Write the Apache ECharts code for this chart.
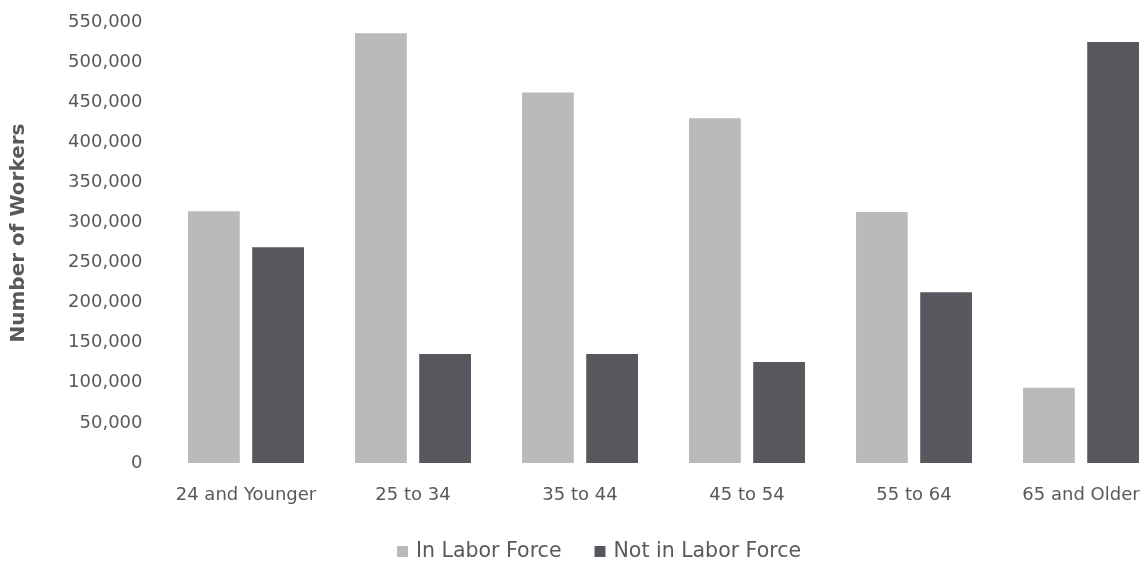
<!DOCTYPE html>
<html>
<head>
<meta charset="utf-8">
<script src="https://cdn.jsdelivr.net/npm/echarts@6/dist/echarts.min.js"></script>
<style>
  html, body { margin: 0; padding: 0; background: #ffffff; }
  #chart { width: 1144px; height: 561px; }
</style>
</head>
<body>
<div id="chart"></div>
<script>
// Age groups along the x axis
const ageGroups = ['24 and Younger', '25 to 34', '35 to 44', '45 to 54', '55 to 64', '65 and Older'];

// Workers by labor force status
const inLaborForce    = [314000, 536000, 462000, 430000, 313000, 94000];
const notInLaborForce = [269000, 136000, 136000, 126000, 213000, 525000];

const seriesNames = ['In Labor Force', 'Not in Labor Force'];

// Value axis ticks
const yTicks = { min: 0, max: 550000, step: 50000 };

const textColor = '#595959';
const fontFamily = '"DejaVu Sans", sans-serif';

const chart = echarts.init(document.getElementById('chart'), null, { renderer: 'canvas' });

chart.setOption({
  backgroundColor: '#ffffff',
  animation: false,
  textStyle: { fontFamily: fontFamily, color: textColor },
  grid: {
    left: 162.5,
    right: -20.5,
    top: 22,
    bottom: 98,
    containLabel: false,
    outerBoundsMode: 'none'
  },
  legend: {
    data: seriesNames,
    left: 392,
    top: 536,
    itemWidth: 11,
    itemHeight: 11,
    itemGap: 33,
    icon: 'rect',
    textStyle: { fontSize: 20.5, color: textColor, fontFamily: fontFamily, padding: [0, 0, 0, 3] }
  },
  xAxis: {
    type: 'category',
    data: ageGroups,
    axisLine: { show: false },
    axisTick: { show: false },
    axisLabel: { fontSize: 18, color: textColor, margin: 23, interval: 0 }
  },
  yAxis: {
    type: 'value',
    min: yTicks.min,
    max: yTicks.max,
    interval: yTicks.step,
    name: 'Number of Workers',
    nameLocation: 'middle',
    nameGap: 134,
    nameTextStyle: { fontSize: 20, fontWeight: 'bold', color: textColor, padding: [0, 0, 0, 19] },
    axisLine: { show: false },
    axisTick: { show: false },
    splitLine: { show: false },
    axisLabel: {
      fontSize: 18,
      color: textColor,
      margin: 20,
      formatter: v => v.toLocaleString('en-US')
    }
  },
  series: [
    {
      name: seriesNames[0],
      type: 'bar',
      data: inLaborForce,
      barWidth: '31%',
      barGap: '24%',
      itemStyle: { color: '#bababa' }
    },
    {
      name: seriesNames[1],
      type: 'bar',
      data: notInLaborForce,
      barWidth: '31%',
      barGap: '24%',
      itemStyle: { color: '#58575d' }
    }
  ]
});
</script>
</body>
</html>
